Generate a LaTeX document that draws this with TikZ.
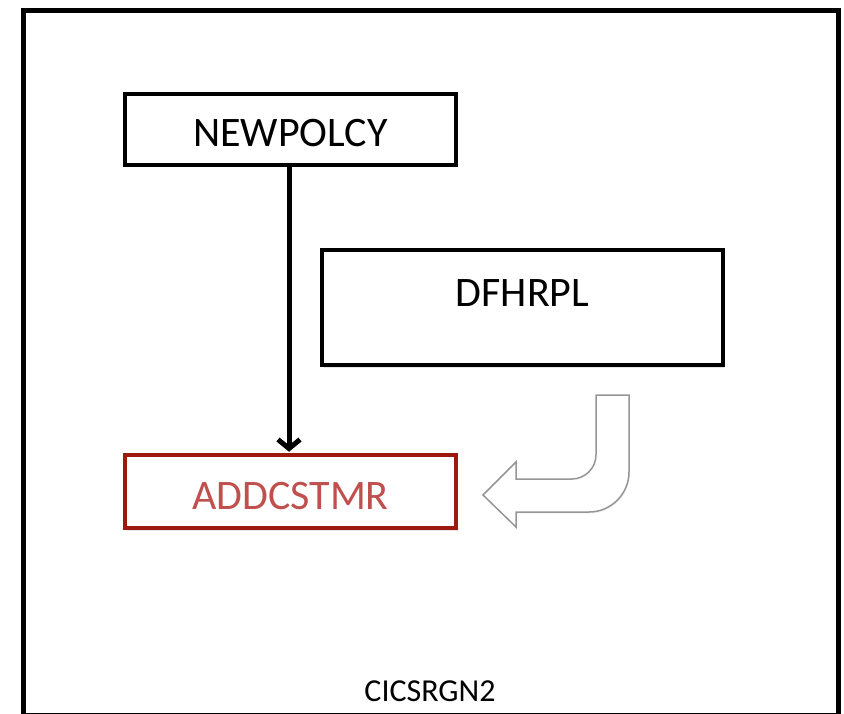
\documentclass[tikz,border=0pt]{standalone}
\usepackage{fontspec}
\setmainfont{Carlito}
\usetikzlibrary{arrows.meta,shadows}
\definecolor{boxred}{RGB}{155,25,15}
\definecolor{txtred}{RGB}{192,80,77}
\definecolor{arrgray}{RGB}{150,150,150}
\tikzset{
  softshadow/.style={drop shadow={shadow xshift=1.5pt,shadow yshift=-2.5pt,opacity=0.2,fill=black!50}},
  progbox/.style={draw=black,line width=4.5pt,fill=white,rectangle,inner sep=0pt,softshadow},
  redbox/.style={progbox,draw=boxred},
  bigtxt/.style={font=\fontsize{42}{50}\selectfont,inner sep=0pt,anchor=base},
  regtxt/.style={font=\fontsize{32}{38}\selectfont,inner sep=0pt,anchor=base},
  flow/.style={line width=5pt,-{Straight Barb[length=9pt,width=22pt]}},
  bendarrow/.style={draw=arrgray,line width=1.5pt,fill=white,line join=miter,
    drop shadow={shadow xshift=1pt,shadow yshift=-1.5pt,opacity=0.12,fill=black!40}}
}
\begin{document}
\begin{tikzpicture}[x=1pt,y=-1pt]
\useasboundingbox (0,0) rectangle (844,714);
\fill[white] (0,0) rectangle (844,714);
\begin{scope}
\clip (0,0) rectangle (844,714);
\node[draw=black,line width=5pt,rectangle,minimum width=815pt,minimum height=705pt,inner sep=0pt] (frame) at (430.5,363.25) {};
\end{scope}
\node[progbox,minimum width=331pt,minimum height=71pt] (newpolcy) at (290.5,129.5) {};
\node[bigtxt] (newpolcyt) at ([yshift=-17.5pt]newpolcy.center) {NEWPOLCY};
\node[progbox,minimum width=401pt,minimum height=115pt] (dfhrpl) at (522.5,307.5) {};
\node[bigtxt] (dfhrplt) at ([yshift=1.5pt]dfhrpl.center) {DFHRPL};
\node[redbox,minimum width=331pt,minimum height=73pt] (addcstmr) at (290.5,491.5) {};
\node[bigtxt,text=txtred] (addcstmrt) at ([yshift=-17.5pt]addcstmr.center) {ADDCSTMR};
\node[regtxt] (cicsrgn2) at (430,701) {CICSRGN2};
\coordinate (arrtop) at ([xshift=-1.5pt]newpolcy.south);
\coordinate (arrend) at ([xshift=-1.5pt,yshift=1pt]addcstmr.north);
\draw[flow] (arrtop) -- (arrend);
\path[bendarrow] (596,395) -- (629,395) -- (629,472)
  .. controls (629,494) and (611,512) .. (589,512)
  -- (516,512) -- (516,527) -- (483,495) -- (516,462) -- (516,479) -- (572,479)
  .. controls (585,479) and (596,468) .. (596,455) -- cycle;
\end{tikzpicture}
\end{document}
